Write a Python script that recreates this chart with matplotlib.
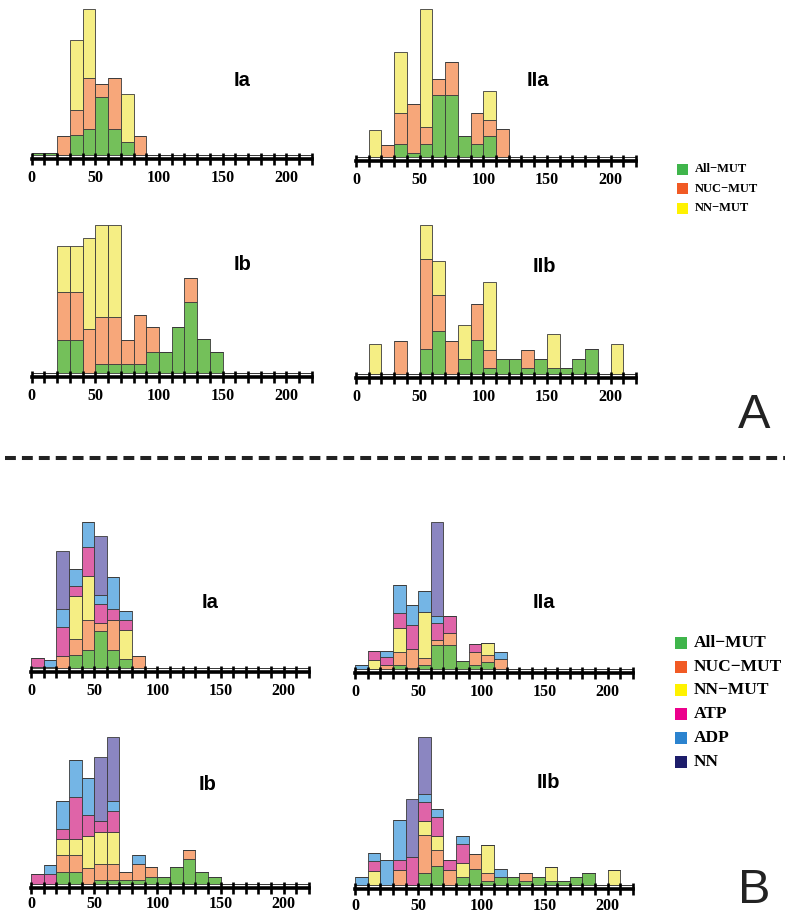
import matplotlib
matplotlib.use("Agg")
import matplotlib.pyplot as plt
import numpy as np
from matplotlib.patches import Rectangle
from matplotlib.lines import Line2D

# bins of width 10 from 0 to 220, heights in % of the tallest stacked bar
bins = np.arange(0, 220, 10)
tick_labels = ["0", "50", "100", "150", "200"]

# ---- panel A ----
A_Ia_green = [1.5, 1.5, 0, 14, 18, 40, 18, 9, 0, 0, 0, 0, 0, 0, 0, 0, 0, 0, 0, 0, 0, 0]
A_Ia_nuc = [0, 0, 13, 17, 35, 9, 35, 0, 13, 0, 0, 0, 0, 0, 0, 0, 0, 0, 0, 0, 0, 0]
A_Ia_nn = [0, 0, 0, 48, 47, 0, 0, 33, 0, 0, 0, 0, 0, 0, 0, 0, 0, 0, 0, 0, 0, 0]

A_IIa_green = [0, 0, 0, 9, 3, 9, 42, 42, 14, 9, 14, 0, 0, 0, 0, 0, 0, 0, 0, 0, 0, 0]
A_IIa_nuc = [0, 0, 8, 21, 33, 11, 11, 22, 0, 21, 11, 19, 0, 0, 0, 0, 0, 0, 0, 0, 0, 0]
A_IIa_nn = [0, 18, 0, 41, 0, 80, 0, 0, 0, 0, 20, 0, 0, 0, 0, 0, 0, 0, 0, 0, 0, 0]

A_Ib_green = [0, 0, 22, 22, 0, 6, 6, 6, 6, 14, 14, 31, 48, 23, 14, 0, 0, 0, 0, 0, 0, 0]
A_Ib_nuc = [0, 0, 33, 33, 30, 32, 32, 16, 33, 17, 0, 0, 16, 0, 0, 0, 0, 0, 0, 0, 0, 0]
A_Ib_nn = [0, 0, 31, 31, 61, 62, 62, 0, 0, 0, 0, 0, 0, 0, 0, 0, 0, 0, 0, 0, 0, 0]

A_IIb_green = [0, 0, 0, 0, 0, 17, 29, 0, 10, 23, 4, 10, 10, 4, 10, 4, 4, 10, 17, 0, 0, 0]
A_IIb_nuc = [0, 0, 0, 22, 0, 60, 24, 22, 0, 24, 12, 0, 0, 12, 0, 0, 0, 0, 0, 0, 0, 0]
A_IIb_nn = [0, 20, 0, 0, 0, 23, 23, 0, 23, 0, 46, 0, 0, 0, 0, 23, 0, 0, 0, 0, 20, 0]

# ---- panel B ----
B_Ia_green = [0.7, 0.7, 0, 9, 12, 25, 12, 6, 0, 0, 0, 0, 0, 0, 0, 0, 0, 0, 0, 0, 0, 0]
B_Ia_nuc = [0, 0, 8, 11, 21, 6, 21, 0, 8, 0, 0, 0, 0, 0, 0, 0, 0, 0, 0, 0, 0, 0]
B_Ia_nn = [0, 0, 0, 29, 30, 0, 0, 20, 0, 0, 0, 0, 0, 0, 0, 0, 0, 0, 0, 0, 0, 0]
B_Ia_atp = [6, 0, 20, 7, 20, 13, 7, 7, 0, 0, 0, 0, 0, 0, 0, 0, 0, 0, 0, 0, 0, 0]
B_Ia_adp = [0, 5, 12, 12, 17, 6, 22, 6, 0, 0, 0, 0, 0, 0, 0, 0, 0, 0, 0, 0, 0, 0]
B_Ia_nnl = [0, 0, 40, 0, 0, 40, 0, 0, 0, 0, 0, 0, 0, 0, 0, 0, 0, 0, 0, 0, 0, 0]

B_IIa_green = [0, 0, 0, 2.5, 0.7, 3, 16, 16, 5.6, 3, 5, 0, 0, 0, 0, 0, 0, 0, 0, 0, 0, 0]
B_IIa_nuc = [0, 0, 2.5, 9, 12.7, 4.4, 4, 8.5, 0, 8.4, 4.6, 7, 0, 0, 0, 0, 0, 0, 0, 0, 0, 0]
B_IIa_nn = [0, 6, 0, 16, 0, 31.6, 0, 0, 0, 0, 7.8, 0, 0, 0, 0, 0, 0, 0, 0, 0, 0, 0]
B_IIa_atp = [0, 6, 5.5, 10.5, 16.6, 0, 11, 11.5, 0, 5.3, 0, 0, 0, 0, 0, 0, 0, 0, 0, 0, 0, 0]
B_IIa_adp = [3, 0, 4.5, 19, 13.5, 14, 5, 0, 0, 0, 0, 4.8, 0, 0, 0, 0, 0, 0, 0, 0, 0, 0]
B_IIa_nnl = [0, 0, 0, 0, 0, 0, 64, 0, 0, 0, 0, 0, 0, 0, 0, 0, 0, 0, 0, 0, 0, 0]

B_Ib_green = [0, 0, 8, 8, 0, 2.9, 2.9, 2.9, 2.9, 5, 5, 11.3, 17.2, 8.4, 5, 0, 0, 0, 0, 0, 0, 0]
B_Ib_nuc = [0, 0, 12, 12, 11, 11, 11, 5.5, 11, 6.3, 0, 0, 6, 0, 0, 0, 0, 0, 0, 0, 0, 0]
B_Ib_nn = [0, 0, 10.5, 10.5, 21.7, 21.6, 21.6, 0, 0, 0, 0, 0, 0, 0, 0, 0, 0, 0, 0, 0, 0, 0]
B_Ib_atp = [6.6, 6.6, 7.2, 29, 14.3, 7.1, 14.4, 0, 0, 0, 0, 0, 0, 0, 0, 0, 0, 0, 0, 0, 0, 0]
B_Ib_adp = [0, 6.2, 18.8, 25, 25, 0, 6.4, 0, 6, 0, 0, 0, 0, 0, 0, 0, 0, 0, 0, 0, 0, 0]
B_Ib_nnl = [0, 0, 0, 0, 0, 43.7, 43.7, 0, 0, 0, 0, 0, 0, 0, 0, 0, 0, 0, 0, 0, 0, 0]

B_IIb_green = [0, 0, 0, 0, 0, 7.9, 13.1, 0, 5.3, 10.5, 2.6, 5.3, 5.3, 2.6, 5.3, 2.6, 2.6, 5.3, 8.1, 0, 0, 0]
B_IIb_nuc = [0, 0, 0, 10.3, 0, 25.8, 10.3, 10.3, 0, 10.5, 5.3, 0, 0, 5.3, 0, 0, 0, 0, 0, 0, 0, 0]
B_IIb_nn = [0, 9.2, 0, 0, 0, 9.4, 9.4, 0, 9.4, 0, 19.2, 0, 0, 0, 0, 9.9, 0, 0, 0, 0, 9.8, 0]
B_IIb_atp = [0, 7, 0, 6.3, 19, 12.9, 13.4, 6.3, 13.1, 0, 0, 0, 0, 0, 0, 0, 0, 0, 0, 0, 0, 0]
B_IIb_adp = [5.5, 5.7, 16.6, 27.6, 0, 5.3, 5.4, 0, 5.5, 0, 0, 5.6, 0, 0, 0, 0, 0, 0, 0, 0, 0, 0]
B_IIb_nnl = [0, 0, 0, 0, 38.8, 38.7, 0, 0, 0, 0, 0, 0, 0, 0, 0, 0, 0, 0, 0, 0, 0, 0]

bar_colors = ["#74c05a", "#f7a77a", "#f5ee84", "#df64a8", "#74b5e5", "#8b86c1"]
legend_colors = ["#3fb54b", "#f15a24", "#fff200", "#ec008c", "#2b83cf", "#1d1d6b"]
legend_labels = ["All\u2212MUT", "NUC\u2212MUT", "NN\u2212MUT", "ATP", "ADP", "NN"]

W, H = 788, 916
fig = plt.figure(figsize=(W / 100, H / 100), dpi=100)


def px_axes(x0, x1, base, top):
    return fig.add_axes([x0 / W, 1 - base / H, (x1 - x0) / W, (base - top) / H])


def draw_panel(ax, series, name, lx, ly, pad=4):
    bottom = np.zeros(len(bins))
    for vals, col in zip(series, bar_colors):
        vals = np.array(vals, dtype=float)
        ax.bar(bins, vals, width=10, bottom=bottom, align="edge", color=col,
               edgecolor="#3a3a3a", linewidth=0.6, clip_on=False)
        bottom += vals
    ax.set_xlim(0, 220)
    ax.set_ylim(0, 100)
    for s in ["top", "right", "left"]:
        ax.spines[s].set_visible(False)
    ax.spines["bottom"].set_linewidth(2.6)
    ax.spines["bottom"].set_position(("outward", 3))
    ax.set_yticks([])
    ax.set_xticks(np.arange(0, 221, 10), minor=True)
    ax.set_xticks(np.arange(0, 201, 50))
    ax.set_xticklabels(tick_labels, fontfamily="Liberation Serif",
                       fontweight="bold", fontsize=11.5)
    ax.tick_params(axis="x", which="both", direction="inout", length=8,
                   width=1.9, color="black", pad=pad)
    ax.patch.set_visible(False)
    fig.text(lx / W, 1 - ly / H, name, ha="center", va="center",
             fontfamily="Liberation Sans", fontweight="bold", fontsize=14.5)


draw_panel(px_axes(31.7, 311.7, 155, 9.3), [A_Ia_green, A_Ia_nuc, A_Ia_nn], "Ia", 242, 80)
draw_panel(px_axes(356, 636, 157, 9.3), [A_IIa_green, A_IIa_nuc, A_IIa_nn], "IIa", 538, 80)
draw_panel(px_axes(31.7, 311.7, 373, 225), [A_Ib_green, A_Ib_nuc, A_Ib_nn], "Ib", 243, 265)
draw_panel(px_axes(356, 636, 374, 225), [A_IIb_green, A_IIb_nuc, A_IIb_nn], "IIb", 544, 267)

draw_panel(px_axes(31, 309, 668, 521.7),
           [B_Ia_green, B_Ia_nuc, B_Ia_nn, B_Ia_atp, B_Ia_adp, B_Ia_nnl], "Ia", 210, 603)
draw_panel(px_axes(355, 633, 669, 521.7),
           [B_IIa_green, B_IIa_nuc, B_IIa_nn, B_IIa_atp, B_IIa_adp, B_IIa_nnl], "IIa", 544, 603)
draw_panel(px_axes(31, 309, 884, 737),
           [B_Ib_green, B_Ib_nuc, B_Ib_nn, B_Ib_atp, B_Ib_adp, B_Ib_nnl], "Ib", 208, 785, pad=2)
draw_panel(px_axes(355, 633, 885, 737),
           [B_IIb_green, B_IIb_nuc, B_IIb_nn, B_IIb_atp, B_IIb_adp, B_IIb_nnl], "IIb", 548, 782, pad=2)


def draw_legend(n, x, y0, dy, size, fs):
    for i in range(n):
        y = y0 + i * dy
        fig.add_artist(Rectangle((x / W, 1 - (y + size / 2) / H), size / W, size / H,
                                 transform=fig.transFigure, facecolor=legend_colors[i],
                                 edgecolor="none"))
        fig.text((x + size + 7) / W, 1 - y / H, legend_labels[i], ha="left", va="center",
                 fontfamily="Liberation Serif", fontweight="bold", fontsize=fs)


draw_legend(3, 677, 169, 19.5, 11, 9)
draw_legend(6, 675, 643, 23.7, 12, 12.5)

# dashed separator and panel letters
fig.add_artist(Line2D([5 / W, 785 / W], [1 - 458 / H, 1 - 458 / H], color="#222222",
                      linewidth=2.9, linestyle=(0, (2.7, 1.5)), transform=fig.transFigure))
fig.text(754 / W, 1 - 428 / H, "A", ha="center", va="baseline",
         fontfamily="Liberation Sans", fontsize=35, color="#222222")
fig.text(754 / W, 1 - 903 / H, "B", ha="center", va="baseline",
         fontfamily="Liberation Sans", fontsize=35, color="#222222")

fig.savefig("out.png", dpi=100)
